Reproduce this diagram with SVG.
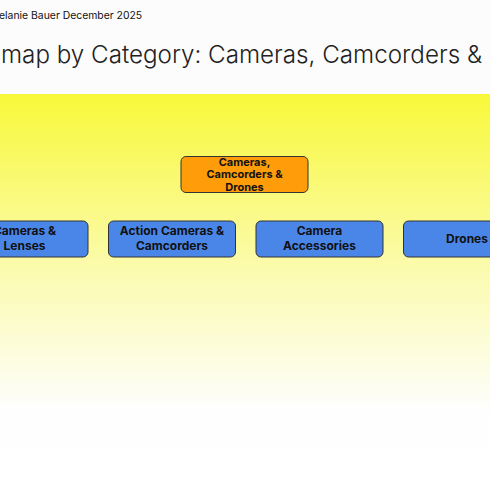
<svg xmlns="http://www.w3.org/2000/svg" width="490" height="490" viewBox="0 0 490 490">
<defs>
<linearGradient id="bg" x1="0" y1="94" x2="0" y2="490" gradientUnits="userSpaceOnUse">
<stop offset="0" stop-color="#f8f83a"/>
<stop offset="0.45" stop-color="#fbfbb0"/>
<stop offset="0.8" stop-color="#fefefe"/>
<stop offset="1" stop-color="#ffffff"/>
</linearGradient>
<style>
.node rect{stroke:#333;stroke-width:1}
.root rect{fill:#ff9c0a}
.child rect{fill:#4a86e8}
.lbl{font-family:Inter,"Liberation Sans",sans-serif;font-weight:bold;fill:#111;text-anchor:middle}
</style>
</defs>
<rect width="490" height="490" fill="#fcfcfc"/>
<rect x="0" y="94" width="490" height="396" fill="url(#bg)"/>
<text x="-1" y="19" font-family="Inter, 'Liberation Sans', sans-serif" font-size="10.4" fill="#111">elanie Bauer December 2025</text>
<text x="1" y="63" font-family="Inter, 'Liberation Sans', sans-serif" font-size="24.2" font-weight="300" fill="#222">map by Category: Cameras, Camcorders &amp;</text>
<g id="connectors"></g>
<g id="n-root" class="node root">
<rect x="181" y="156.5" width="127" height="36" rx="5"/>
<text class="lbl" font-size="11"><tspan x="244.5" y="165.5">Cameras,</tspan><tspan x="244.5" y="178">Camcorders &amp;</tspan><tspan x="244.5" y="190.5">Drones</tspan></text>
</g>
<g id="n-lenses" class="node child">
<rect x="-39" y="221" width="127" height="36" rx="5"/>
<text class="lbl" font-size="12"><tspan x="24.5" y="234.5">Cameras &amp;</tspan><tspan x="24.5" y="250">Lenses</tspan></text>
</g>
<g id="n-action" class="node child">
<rect x="108.5" y="221" width="127" height="36" rx="5"/>
<text class="lbl" font-size="12"><tspan x="172" y="234.5">Action Cameras &amp;</tspan><tspan x="172" y="250">Camcorders</tspan></text>
</g>
<g id="n-access" class="node child">
<rect x="256" y="221" width="127" height="36" rx="5"/>
<text class="lbl" font-size="12"><tspan x="319.5" y="234.5">Camera</tspan><tspan x="319.5" y="250">Accessories</tspan></text>
</g>
<g id="n-drones" class="node child">
<rect x="403.5" y="221" width="127" height="36" rx="5"/>
<text class="lbl" font-size="12" x="467" y="242.5">Drones</text>
</g>
</svg>
